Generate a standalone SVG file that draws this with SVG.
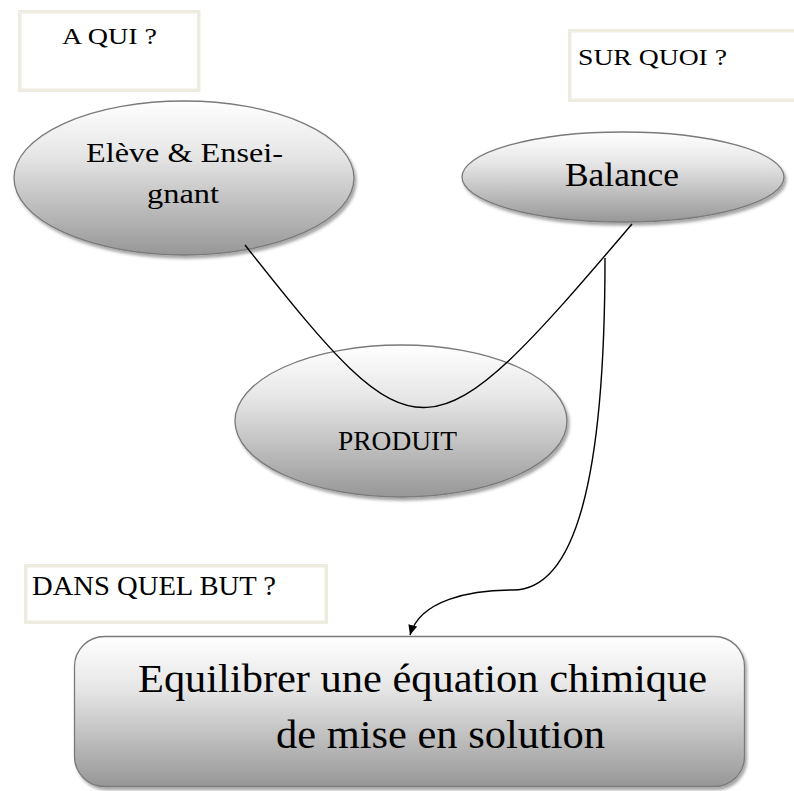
<svg xmlns="http://www.w3.org/2000/svg" width="794" height="791" viewBox="0 0 794 791">
  <defs>
    <linearGradient id="shade" x1="0" y1="0" x2="0" y2="1">
      <stop offset="0" stop-color="#ffffff"/>
      <stop offset="0.35" stop-color="#e6e6e6"/>
      <stop offset="1" stop-color="#979797"/>
    </linearGradient>
    <filter id="drop" x="-10%" y="-10%" width="120%" height="130%">
      <feDropShadow dx="2" dy="3" stdDeviation="1.5" flood-color="#000" flood-opacity="0.35"/>
    </filter>
    <marker id="arrow" viewBox="0 0 10 10" refX="10" refY="5" markerWidth="10" markerHeight="10" markerUnits="userSpaceOnUse" orient="auto">
      <path d="M0,0.5 L10,5 L0,9.5 z" fill="#000"/>
    </marker>
  </defs>
  <style>
    .lbl { fill: #ffffff; stroke: #eeece1; stroke-width: 3.5; }
    .shape { fill: url(#shade); stroke: #7a7a7a; stroke-width: 1.3; filter: url(#drop); }
    .link { fill: none; stroke: #000; stroke-width: 1.4; }
    text { font-family: "Liberation Serif", "Times New Roman", serif; fill: #000; }
  </style>

  <rect width="794" height="791" fill="#ffffff"/>

  <!-- question labels -->
  <g id="label-a-qui">
    <rect class="lbl" x="19.75" y="11.75" width="179" height="78.5"/>
    <text x="62" y="44" font-size="24" textLength="95" lengthAdjust="spacingAndGlyphs">A QUI ?</text>
  </g>
  <g id="label-sur-quoi">
    <rect class="lbl" x="569.75" y="30.75" width="240" height="69.5"/>
    <text x="578" y="65" font-size="24" textLength="149" lengthAdjust="spacingAndGlyphs">SUR QUOI ?</text>
  </g>
  <g id="label-dans-quel-but">
    <rect class="lbl" x="25.75" y="565.75" width="300.5" height="56.5"/>
    <text x="32" y="595" font-size="27" textLength="244" lengthAdjust="spacingAndGlyphs">DANS QUEL BUT ?</text>
  </g>

  <!-- nodes -->
  <g id="node-eleve">
    <ellipse class="shape" cx="184" cy="178" rx="170" ry="77"/>
    <text x="86" y="162" font-size="28" textLength="197" lengthAdjust="spacingAndGlyphs">Elève &amp; Ensei-</text>
    <text x="147" y="203" font-size="28" textLength="72" lengthAdjust="spacingAndGlyphs">gnant</text>
  </g>
  <g id="node-balance">
    <ellipse class="shape" cx="623" cy="177" rx="161" ry="45"/>
    <text x="565" y="186" font-size="33" textLength="114" lengthAdjust="spacingAndGlyphs">Balance</text>
  </g>
  <g id="node-produit">
    <ellipse class="shape" cx="401" cy="421" rx="166" ry="76"/>
    <text x="338" y="450" font-size="27" textLength="119" lengthAdjust="spacingAndGlyphs">PRODUIT</text>
  </g>
  <g id="node-but">
    <rect class="shape" x="74.5" y="636.5" width="670" height="150" rx="30" ry="30"/>
    <text x="138" y="692" font-size="40" textLength="569" lengthAdjust="spacingAndGlyphs">Equilibrer une équation chimique</text>
    <text x="276" y="748" font-size="40" textLength="329" lengthAdjust="spacingAndGlyphs">de mise en solution</text>
  </g>

  <!-- connectors -->
  <g id="connectors">
    <path class="link" d="M245,245 C419,465 427,465 632,224"/>
    <path class="link" d="M605,258 C605,480 575,590 513,590 C470,590 420,600 410,635" marker-end="url(#arrow)"/>
  </g>
</svg>
